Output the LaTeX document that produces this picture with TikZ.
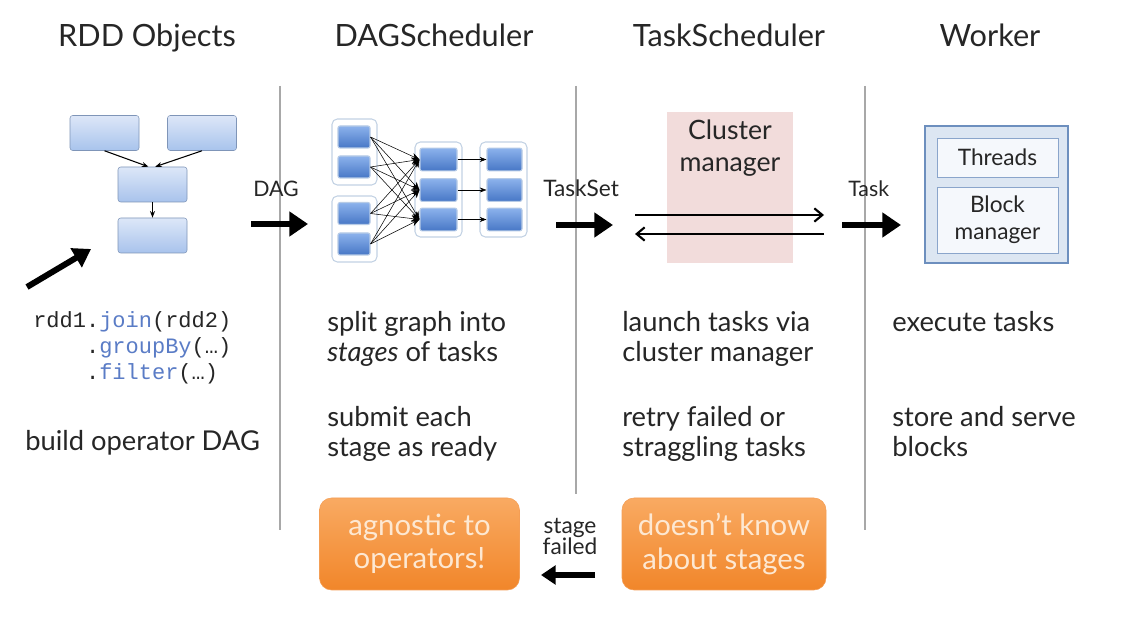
\documentclass[tikz,border=0pt]{standalone}
\usepackage{fontspec}
\setmainfont{Lato}
\setmonofont{Liberation Mono}
\definecolor{TXTdark}{HTML}{262626}
\definecolor{SEPgray}{HTML}{A8A8A8}
\definecolor{RDDtop}{HTML}{DDE7F8}
\definecolor{RDDbot}{HTML}{A8C3EC}
\definecolor{RDDedge}{HTML}{7F95B8}
\definecolor{DAGtop}{HTML}{8CB2EC}
\definecolor{DAGbot}{HTML}{4777C6}
\definecolor{DAGedge}{HTML}{B7CBE6}
\definecolor{GRPedge}{HTML}{C3D2E4}
\definecolor{CLUfill}{HTML}{F2DCDB}
\definecolor{WRKfill}{HTML}{DCE6F2}
\definecolor{WRKedge}{HTML}{6D8FBE}
\definecolor{WRKinner}{HTML}{F5F8FC}
\definecolor{ORGtop}{HTML}{F9AA62}
\definecolor{ORGbot}{HTML}{F1862A}
\definecolor{ORGtext}{HTML}{FDE8D2}
\definecolor{CODEblue}{HTML}{5A7CC6}
\usetikzlibrary{arrows.meta, positioning, calc}
\newcommand{\kw}[1]{\textcolor{CODEblue}{#1}}

\begin{document}
\begin{tikzpicture}[x=0.75pt, y=-0.75pt,
   font=\fontsize{20.5}{22.5}\selectfont, text=TXTdark,
   rddbox/.style={draw=RDDedge, rounded corners=2pt, top color=RDDtop,
      bottom color=RDDbot, minimum width=51.75pt, minimum height=26.25pt, inner sep=0pt},
   stagegroup/.style={draw=GRPedge, line width=0.8pt, rounded corners=4pt,
      fill=white, inner sep=0pt},
   stagebox/.style={draw=DAGedge, line width=0.8pt, rounded corners=1.5pt,
      top color=DAGtop, bottom color=DAGbot, minimum height=17pt, inner sep=0pt},
   headline/.style={font=\fontsize{23}{25}\selectfont, anchor=base},
   note/.style={anchor=base west, align=left, inner sep=0pt},
   bigarrow/.style={line width=5pt, -{Triangle[length=14pt,width=18pt]}},
   orangebox/.style={rounded corners=9pt, top color=ORGtop, bottom color=ORGbot,
      draw=ORGbot!80!white, text=ORGtext, align=center, inner sep=0pt,
      minimum width=150pt, minimum height=69pt, font=\fontsize{22}{25}\selectfont},
   innerbox/.style={draw=WRKedge!80!white, fill=WRKinner, align=center, inner sep=0pt,
      minimum width=90.75pt, font=\fontsize{17}{20}\selectfont}]
   \useasboundingbox (0,0) rectangle (1129,623);
   \fill[white] (0,0) rectangle (1129,623);
   % Column titles
   \node[headline] (tRDD) at (147,47) {RDD Objects};
   \node[headline] (tDAG) at (434,47) {DAGScheduler};
   \node[headline] (tTask) at (729,47) {TaskScheduler};
   \node[headline] (tWorker) at (990,47) {Worker};
   % Separators
   \draw[SEPgray, line width=1.6pt] (280,86) -- (280,530);
   \draw[SEPgray, line width=1.6pt] (576,86) -- (576,494);
   \draw[SEPgray, line width=1.6pt] (865,86) -- (865,530);
   % RDD objects
   \node[rddbox] (r1) at (104.5,133) {};
   \node[rddbox] (r2) at (202,133) {};
   \node[rddbox] (r3) at (152.5,184.5) {};
   \node[rddbox] (r4) at (152.5,235.5) {};
   \draw[-{Stealth[length=5pt]}, thick] (r1.south) -- ([xshift=-3pt]r3.north);
   \draw[-{Stealth[length=5pt]}, thick] (r2.south) -- ([xshift=2pt]r3.north);
   \draw[-{Stealth[length=5pt]}, thick] (r3) -- (r4);
   \coordinate (codeTail) at (27,287);
   \coordinate (codeTip) at (91,249);
   \draw[line width=4.5pt, -{Triangle[length=13pt,width=16pt]}] (codeTail) -- (codeTip);
   % (base of a multi-line node = its last line)
   \node[note, font=\ttfamily\fontsize{16.5}{19.5}\selectfont] (code) at (33,380)
      {rdd1.\kw{join}(rdd2)\\ \phantom{rdd1}.\kw{groupBy}(…)\\ \phantom{rdd1}.\kw{filter}(…)};
   \node[note] (buildDAG) at (25,451) {build operator DAG};
   % DAG of stages
   \node[stagegroup, minimum width=33.75pt, minimum height=49.5pt] (gA) at (354.5,152) {};
   \node[stagegroup, minimum width=33.75pt, minimum height=49.5pt] (gB) at (354.5,229) {};
   \node[stagegroup, minimum width=35.25pt, minimum height=71.25pt] (gC) at (438.5,189.5) {};
   \node[stagegroup, minimum width=35.25pt, minimum height=71.25pt] (gD) at (503.5,189.5) {};
   \node[stagebox, minimum width=24pt, minimum height=16.5pt] (a1) at (354,137) {};
   \node[stagebox, minimum width=24pt, minimum height=16.5pt] (a2) at (354,167) {};
   \node[stagebox, minimum width=24pt, minimum height=16.5pt] (b1) at (354,213.5) {};
   \node[stagebox, minimum width=24pt, minimum height=16.5pt] (b2) at (354,244) {};
   \foreach \i/\y in {1/159.5, 2/190, 3/219.5} {
      \node[stagebox, minimum width=27.75pt] (c\i) at (438.5,\y) {};
      \node[stagebox, minimum width=26.25pt] (d\i) at (504.5,\y) {};
      \draw[-{Stealth[length=5pt]}, thin] (c\i) -- (d\i);
   }
   \foreach \s in {a1,a2,b1,b2}
      \foreach \t in {c1,c2,c3}
         \draw[-{Stealth[length=6pt,width=5pt]}, thin] (\s.east) -- (\t.west);
   \node[anchor=base west, inner sep=0pt, font=\fontsize{16}{20}\selectfont] (lDAG) at (253,197) {DAG};
   \coordinate (dagFrom) at (251,224);
   \coordinate (dagTo) at (308,224);
   \draw[bigarrow] (dagFrom) -- (dagTo);
   \node[note] (split) at (327,362) {split graph into\\\textit{stages} of tasks};
   \node[note] (submit) at (327,457) {submit each\\stage as ready};
   % Task scheduler
   \node[fill=CLUfill, minimum width=94.5pt, minimum height=113.25pt, inner sep=0pt] (cluster) at (730,187.5) {};
   \node[anchor=base, align=center, inner sep=0pt, font=\fontsize{20}{24}\selectfont] (clusterText) at (730,172) {Cluster\\manager};
   \coordinate (cmLeftA) at (635,215);
   \coordinate (cmRightA) at (824,215);
   \coordinate (cmRightB) at (824,234);
   \coordinate (cmLeftB) at (635,234);
   \draw[line width=1.6pt, -{Straight Barb[length=6pt,width=10pt]}] (cmLeftA) -- (cmRightA);
   \draw[line width=1.6pt, -{Straight Barb[length=6pt,width=10pt]}] (cmRightB) -- (cmLeftB);
   \node[anchor=base west, inner sep=0pt, font=\fontsize{17}{20}\selectfont] (lTaskSet) at (543,197) {TaskSet};
   \coordinate (setFrom) at (556,225);
   \coordinate (setTo) at (613,225);
   \draw[bigarrow] (setFrom) -- (setTo);
   \node[note] (launch) at (622,362) {launch tasks via\\cluster manager};
   \node[note] (retry) at (622,457) {retry failed or\\straggling tasks};
   % Worker
   \node[draw=WRKedge, line width=2.2pt, fill=WRKfill, minimum width=107.25pt, minimum height=102.75pt, inner sep=0pt] (worker) at (996.5,194.5) {};
   \node[innerbox, minimum height=29.25pt] (threads) at (997.5,157.5) {Threads};
   \node[innerbox, minimum height=49.5pt] (blockmgr) at (997.5,220) {Block\\manager};
   \node[anchor=base west, inner sep=0pt, font=\fontsize{16}{20}\selectfont] (lTask) at (848,197) {Task};
   \coordinate (taskFrom) at (842,225);
   \coordinate (taskTo) at (901,225);
   \draw[bigarrow] (taskFrom) -- (taskTo);
   \node[note] (execute) at (892,332) {execute tasks};
   \node[note] (store) at (892,457) {store and serve\\blocks};
   % Remarks
   \node[orangebox] (agnostic) at (419.5,544) {agnostic to\\operators!};
   \node[orangebox, minimum width=153pt] (noStages) at (724,544) {doesn’t know\\about stages};
   \node[anchor=base, align=center, inner sep=0pt, font=\fontsize{17}{16}\selectfont] (failed) at (570,555) {stage\\failed};
   \coordinate (failFrom) at (595,575);
   \coordinate (failTo) at (541,575);
   \draw[line width=4pt, -{Triangle[length=11pt,width=14pt]}] (failFrom) -- (failTo);
\end{tikzpicture}
\end{document}
